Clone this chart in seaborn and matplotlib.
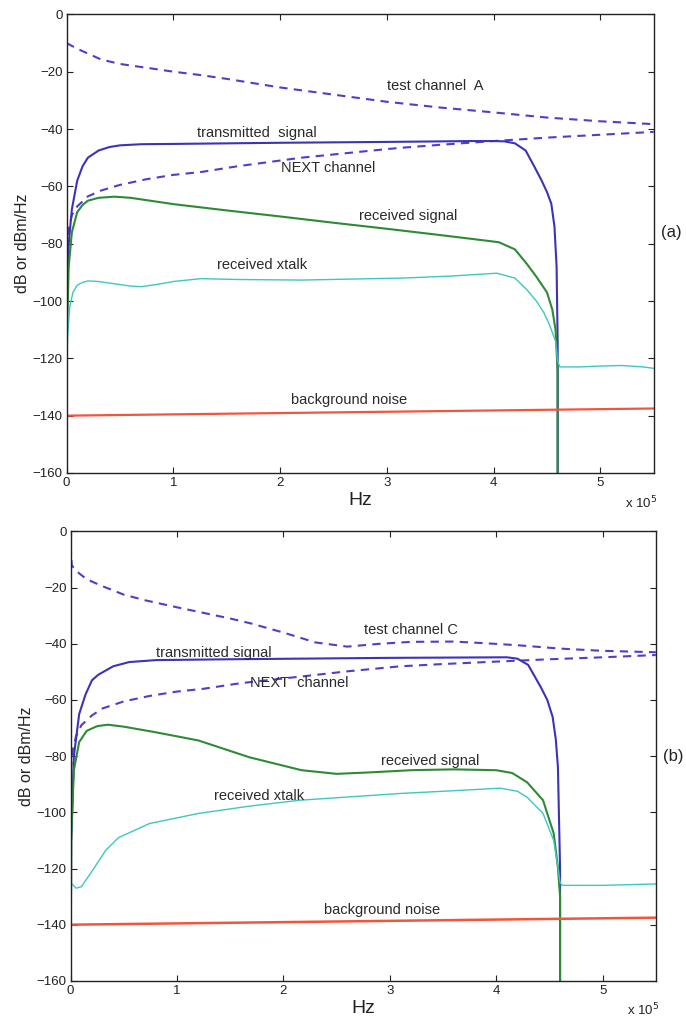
import numpy as np
import pandas as pd
import matplotlib
matplotlib.use("Agg")
import matplotlib.pyplot as plt
import seaborn as sns

# ---------------- data (frequency in units of 1e5 Hz, level in dB) ----------------
# panel (a)
testA_f = [0, 0.1, 0.25, 0.32, 0.5, 0.8, 1.0, 1.26, 1.5, 2.0, 2.5, 3.0, 3.5, 4.0, 4.5, 5.0, 5.5]
testA_v = [-10, -12, -14.5, -15.7, -17.3, -18.9, -20, -21.2, -22.5, -25.5, -28, -30.5, -32.5, -34.2, -36, -37.3, -38.3]

nextA_f = [0, 0.02, 0.05, 0.1, 0.2, 0.32, 0.5, 0.75, 1.0, 1.26, 1.6, 2.0, 2.2, 2.6, 3.0, 3.15, 3.5, 4.0, 4.5, 5.0, 5.5]
nextA_v = [-82, -75, -70, -67, -63.5, -61.5, -59.5, -57.5, -56, -55, -53, -51, -50, -48.5, -47, -46.5, -45.5, -44.2, -43, -42, -41]

txA_f = [0, 0.005, 0.02, 0.05, 0.1, 0.15, 0.2, 0.3, 0.4, 0.5, 0.7, 1.0, 2.0, 3.0, 3.8, 4.0, 4.1, 4.2, 4.3, 4.38, 4.45, 4.5, 4.54, 4.57, 4.59, 4.6, 4.6]
txA_v = [-160, -100, -80, -68, -58, -53, -50, -47.5, -46.3, -45.7, -45.3, -45.2, -44.8, -44.5, -44.2, -44.2, -44.3, -45, -47.5, -53, -58, -62, -66, -74, -88, -115, -160]

rxA_f = [0, 0.005, 0.02, 0.05, 0.1, 0.15, 0.2, 0.3, 0.45, 0.6, 1.0, 1.5, 2.0, 2.5, 3.0, 3.5, 3.9, 4.05, 4.2, 4.31, 4.4, 4.5, 4.55, 4.58, 4.6, 4.6]
rxA_v = [-160, -110, -88, -76, -69, -66.5, -65, -64, -63.6, -64, -66.2, -68.4, -70.5, -72.7, -74.8, -77, -78.8, -79.5, -82, -87, -91.5, -97, -103, -110, -125, -160]

xtA_f = [0, 0.01, 0.03, 0.06, 0.1, 0.15, 0.2, 0.3, 0.45, 0.6, 0.7, 0.85, 1.0, 1.26, 1.6, 2.2, 2.6, 3.15, 3.6, 4.03, 4.2, 4.31, 4.4, 4.47, 4.52, 4.58, 4.6, 4.62, 4.8, 5.0, 5.2, 5.4, 5.5]
xtA_v = [-125, -112, -102, -97, -94.5, -93.5, -93, -93.2, -94, -94.8, -95, -94.2, -93.2, -92.2, -92.5, -92.7, -92.4, -92, -91.3, -90.3, -92, -96, -100, -104, -108, -114, -121, -123, -123, -122.7, -122.5, -123, -123.5]

noiseA_f = [0, 5.5]
noiseA_v = [-140, -137.5]

# panel (b)
testC_f = [0, 0.01, 0.05, 0.15, 0.3, 0.5, 0.7, 1.0, 1.25, 1.5, 1.7, 2.0, 2.3, 2.6, 2.9, 3.2, 3.6, 3.9, 4.2, 4.6, 5.0, 5.5]
testC_v = [-5, -12, -14, -17, -19.5, -22.5, -24.5, -27, -29, -31, -32.8, -36, -39.5, -41, -40, -39.3, -39.2, -39.8, -40.5, -41.7, -42.5, -43]

nextB_f = [0, 0.02, 0.05, 0.1, 0.2, 0.3, 0.5, 0.75, 1.0, 1.25, 1.6, 2.2, 2.6, 3.1, 3.5, 3.9, 4.5, 5.0, 5.5]
nextB_v = [-85, -78, -73, -69, -65.5, -63, -60.5, -58.5, -57, -56, -54, -51.5, -49.8, -48, -47.2, -46.5, -45.5, -44.8, -44]

txB_f = [0, 0.005, 0.03, 0.08, 0.14, 0.2, 0.26, 0.4, 0.55, 0.8, 1.5, 3.0, 4.1, 4.2, 4.3, 4.42, 4.48, 4.53, 4.56, 4.58, 4.6, 4.6]
txB_v = [-160, -110, -80, -65, -58, -53, -51, -48, -46.5, -45.8, -45.5, -45, -44.8, -45.3, -47.5, -55.5, -60, -66, -74, -84, -120, -160]

rxB_f = [0, 0.005, 0.03, 0.08, 0.15, 0.25, 0.35, 0.5, 0.8, 1.2, 1.68, 2.17, 2.5, 2.8, 3.2, 3.6, 4.0, 4.15, 4.29, 4.44, 4.54, 4.58, 4.6, 4.6]
rxB_v = [-160, -110, -85, -75, -71, -69.3, -68.8, -69.5, -71.5, -74.4, -80.4, -85, -86.3, -85.8, -85, -84.7, -85, -86, -89.3, -95.7, -107.5, -119.6, -130, -160]

xtB_f = [0, 0.05, 0.1, 0.2, 0.33, 0.45, 0.74, 1.2, 1.68, 2.15, 3.09, 3.6, 4.04, 4.2, 4.29, 4.44, 4.54, 4.58, 4.6, 4.62, 5.0, 5.5]
xtB_v = [-125, -127, -126.5, -121, -113.5, -109, -104, -100.4, -97.8, -95.7, -93.3, -92.3, -91.4, -92.5, -94.6, -100.4, -110, -119.5, -125, -126, -126, -125.5]

noiseB_f = [0, 5.5]
noiseB_v = [-140, -137.5]

x_ticks = [0, 1, 2, 3, 4, 5]
y_ticks = [0, -20, -40, -60, -80, -100, -120, -140, -160]

labels_a = ["test channel  A", "transmitted  signal", "NEXT channel", "received signal", "received xtalk", "background noise"]
label_pos_a = [(3.45, -25), (1.78, -41.5), (2.45, -53.5), (3.2, -70.5), (1.83, -87.5), (2.65, -134.5)]
labels_b = ["test channel C", "transmitted signal", "NEXT  channel", "received signal", "received xtalk", "background noise"]
label_pos_b = [(3.2, -35), (1.35, -43.3), (2.15, -54), (3.38, -81.8), (1.77, -94.3), (2.93, -134.7)]

# ---------------- style ----------------
sns.set_style("ticks")
plt.rcParams["font.family"] = ["Liberation Sans", "DejaVu Sans"]

C_DASH = "#4f3fc8"
C_TX = "#3b33b8"
C_RX = "#2f8a35"
C_XT = "#3cc8c0"
C_NOISE = "#f4553a"

fig = plt.figure(figsize=(6.86, 10.26), dpi=100)
ax_a = fig.add_axes([0.097, 0.539, 0.856, 0.447])
ax_b = fig.add_axes([0.103, 0.044, 0.853, 0.438])


def draw(ax, series, labels, positions, tag, tag_y):
    for f, v, color, lw, ls in series:
        sns.lineplot(x=f, y=v, ax=ax, estimator=None, sort=False, color=color,
                     lw=lw, linestyle=ls, legend=False)
    ax.set_xlim(0, 5.5)
    ax.set_ylim(-160, 0)
    ax.set_xticks(x_ticks)
    ax.set_xticklabels([str(t) for t in x_ticks])
    ax.set_yticks(y_ticks)
    ax.tick_params(direction="in", top=True, right=True, length=4, width=0.8,
                   labelsize=9.5, colors="#222222", pad=3)
    for s in ax.spines.values():
        s.set_color("#222222")
        s.set_linewidth(1.0)
    ax.set_xlabel("Hz", fontsize=14, labelpad=2, color="#222222")
    ax.set_ylabel("dB or dBm/Hz", fontsize=11.5, labelpad=2, color="#222222")
    for txt, (x, y) in zip(labels, positions):
        ax.text(x, y, txt, ha="center", va="center", fontsize=10.5, color="#2a2a2a")
    ax.text(1.005, -0.065, r"x 10$^5$", transform=ax.transAxes, ha="right",
            va="center", fontsize=9.5, color="#222222")
    ax.text(1.012, tag_y, tag, transform=ax.transData if False else ax.get_yaxis_transform(),
            ha="left", va="center", fontsize=12, color="#222222", clip_on=False)


dash = (0, (4, 3))
series_a = [
    (testA_f, testA_v, C_DASH, 1.5, dash),
    (nextA_f, nextA_v, C_DASH, 1.5, dash),
    (txA_f, txA_v, C_TX, 1.5, "-"),
    (rxA_f, rxA_v, C_RX, 1.5, "-"),
    (xtA_f, xtA_v, C_XT, 1.0, "-"),
    (noiseA_f, noiseA_v, C_NOISE, 1.6, "-"),
]
series_b = [
    (testC_f, testC_v, C_DASH, 1.5, dash),
    (nextB_f, nextB_v, C_DASH, 1.5, dash),
    (txB_f, txB_v, C_TX, 1.5, "-"),
    (rxB_f, rxB_v, C_RX, 1.5, "-"),
    (xtB_f, xtB_v, C_XT, 1.0, "-"),
    (noiseB_f, noiseB_v, C_NOISE, 1.8, "-"),
]

draw(ax_a, series_a, labels_a, label_pos_a, "(a)", -76)
draw(ax_b, series_b, labels_b, label_pos_b, "(b)", -80)

fig.savefig("out.png", dpi=100, facecolor="white")
